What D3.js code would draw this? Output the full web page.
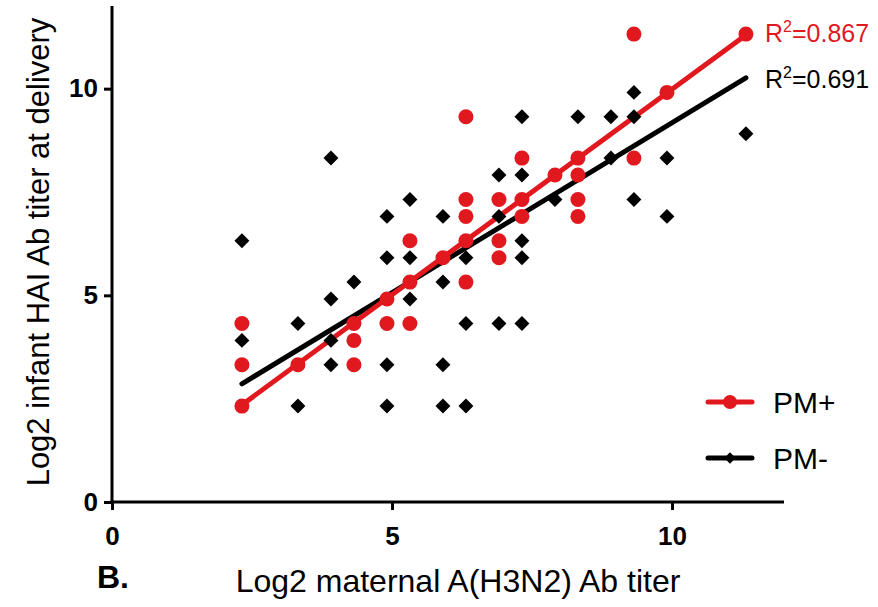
<!DOCTYPE html>
<html>
<head>
<meta charset="utf-8">
<script src="https://cdn.jsdelivr.net/npm/d3@7"></script>
<style>
  html, body { margin: 0; padding: 0; background: #fff; }
  svg { display: block; font-family: "Liberation Sans", Arial, sans-serif; }
</style>
</head>
<body>
<svg id="chart" width="878" height="607"></svg>
<script>
// PM+ group (red circles)
const pmPlusX = [2.32, 2.32, 2.32, 3.32, 4.32, 4.32, 4.32, 4.91, 4.91, 5.32, 5.32, 5.32, 5.91,
  6.32, 6.32, 6.32, 6.32, 6.32, 6.91, 6.91, 6.91, 7.32, 7.32, 7.32, 7.91,
  8.32, 8.32, 8.32, 8.32, 9.32, 9.32, 9.91, 11.32];
const pmPlusY = [2.32, 3.32, 4.32, 3.32, 3.32, 3.91, 4.32, 4.32, 4.91, 4.32, 5.32, 6.32, 5.91,
  5.32, 6.32, 6.91, 7.32, 9.32, 5.91, 6.32, 7.32, 6.91, 7.32, 8.32, 7.91,
  6.91, 7.32, 7.91, 8.32, 8.32, 11.32, 9.91, 11.32];

// PM- group (black diamonds)
const pmMinusX = [2.32, 2.32, 3.32, 3.32, 3.91, 3.91, 3.91, 3.91, 4.32,
  4.91, 4.91, 4.91, 4.91, 5.32, 5.32, 5.32, 5.91, 5.91, 5.91, 5.91,
  6.32, 6.32, 6.32, 6.91, 6.91, 6.91, 7.32, 7.32, 7.32, 7.32, 7.32,
  7.91, 8.32, 8.91, 8.91, 9.32, 9.32, 9.32, 9.91, 9.91, 11.32];
const pmMinusY = [3.91, 6.32, 2.32, 4.32, 3.32, 3.91, 4.91, 8.32, 5.32,
  2.32, 3.32, 5.91, 6.91, 4.91, 5.91, 7.32, 2.32, 3.32, 5.32, 6.91,
  2.32, 4.32, 5.91, 4.32, 6.91, 7.91, 4.32, 5.91, 6.32, 7.91, 9.32,
  7.32, 9.32, 8.32, 9.32, 7.32, 9.32, 9.91, 6.91, 8.32, 8.91];

// Regression lines (end points)
const fitX = [2.32, 11.32];
const fitPlusY = [2.35, 11.30];
const fitMinusY = [2.86, 10.26];

const xTicks = [0, 5, 10];
const yTicks = [0, 5, 10];
const r2Labels = ["0.867", "0.691"];
const legendLabels = ["PM+", "PM-"];

const RED = "#e2181f";
const BLACK = "#000000";

const svg = d3.select("#chart");
const x = d3.scaleLinear().domain([0, 12]).range([112, 784]);
const y = d3.scaleLinear().domain([0, 12]).range([502, 6]);

// Axes
const xAxis = svg.append("g").attr("transform", `translate(0,${y(0)})`)
  .call(d3.axisBottom(x).tickValues(xTicks).tickSize(8).tickPadding(17).tickSizeOuter(0));
const yAxis = svg.append("g").attr("transform", `translate(${x(0)},0)`)
  .call(d3.axisLeft(y).tickValues(yTicks).tickSize(8).tickPadding(6).tickSizeOuter(0));
[xAxis, yAxis].forEach(g => {
  g.selectAll("path.domain").attr("stroke", "#000").attr("stroke-width", 3);
  g.selectAll(".tick line").attr("stroke", "#000").attr("stroke-width", 3);
  g.selectAll(".tick text").attr("fill", "#000").attr("font-size", 26).attr("font-weight", "bold")
    .attr("font-family", "'Liberation Sans', Arial, sans-serif");
});
xAxis.select("path.domain").attr("d", `M${x(0) - 1.5},0H${x(12)}`);
yAxis.select("path.domain").attr("d", `M0,${y(0) + 1.5}V${y(12)}`);

// Titles
svg.append("text").attr("x", 458).attr("y", 592).attr("text-anchor", "middle")
  .attr("font-size", 32).attr("fill", "#000").text("Log2 maternal A(H3N2) Ab titer");
svg.append("text").attr("transform", `translate(49,252) rotate(-90)`).attr("text-anchor", "middle")
  .attr("font-size", 31).attr("fill", "#000").text("Log2 infant HAI Ab titer at delivery");
svg.append("text").attr("x", 97).attr("y", 588).attr("font-size", 32).attr("font-weight", "bold")
  .attr("fill", "#000").text("B.");

// Fit lines
const line = d3.line().x(d => x(d[0])).y(d => y(d[1]));
svg.append("path").datum(fitX.map((v, i) => [v, fitMinusY[i]]))
  .attr("d", line).attr("stroke", BLACK).attr("stroke-width", 5).attr("fill", "none").attr("stroke-linecap", "round");
svg.append("path").datum(fitX.map((v, i) => [v, fitPlusY[i]]))
  .attr("d", line).attr("stroke", RED).attr("stroke-width", 5).attr("fill", "none").attr("stroke-linecap", "round");

// Points
const diamond = d3.symbol().type(d3.symbolSquare).size(112);
svg.append("g").selectAll("path").data(pmMinusX.map((v, i) => [v, pmMinusY[i]])).join("path")
  .attr("d", diamond)
  .attr("transform", d => `translate(${x(d[0])},${y(d[1])}) rotate(45)`)
  .attr("fill", BLACK);
svg.append("g").selectAll("circle").data(pmPlusX.map((v, i) => [v, pmPlusY[i]])).join("circle")
  .attr("cx", d => x(d[0])).attr("cy", d => y(d[1])).attr("r", 7.5).attr("fill", RED);

// R² labels
const r2 = [[r2Labels[0], RED, 42], [r2Labels[1], BLACK, 88]];
r2.forEach(([v, c, yy]) => {
  const t = svg.append("text").attr("x", 765).attr("y", yy).attr("font-size", 25).attr("fill", c);
  t.append("tspan").text("R");
  t.append("tspan").attr("font-size", 16).attr("dy", -10).text("2");
  t.append("tspan").attr("dy", 10).text("=" + v);
});

// Legend
const legend = [[legendLabels[0], RED, 402], [legendLabels[1], BLACK, 458]];
legend.forEach(([lab, c, yy], i) => {
  svg.append("line").attr("x1", 708).attr("x2", 752).attr("y1", yy).attr("y2", yy)
    .attr("stroke", c).attr("stroke-width", 5).attr("stroke-linecap", "round");
  if (i === 0) {
    svg.append("circle").attr("cx", 730).attr("cy", yy).attr("r", 7).attr("fill", c);
  } else {
    svg.append("path").attr("d", d3.symbol().type(d3.symbolSquare).size(64))
      .attr("transform", `translate(730,${yy}) rotate(45)`).attr("fill", c);
  }
  svg.append("text").attr("x", 773).attr("y", yy).attr("dy", "0.36em").attr("font-size", 30)
    .attr("fill", "#000").text(lab);
});
</script>
</body>
</html>
